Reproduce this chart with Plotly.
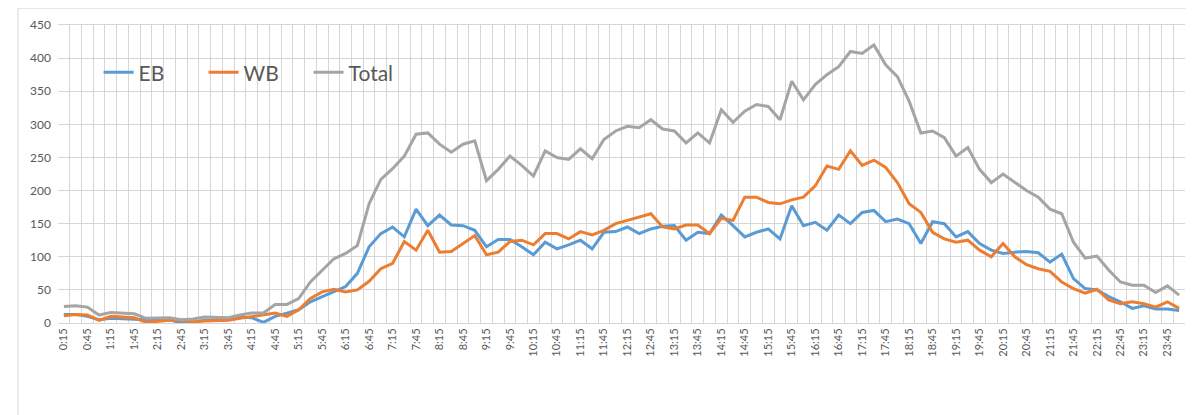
import plotly.graph_objects as go

times = []
for k in range(1, 97):
    m = k * 15
    times.append(f"{m // 60}:{m % 60:02d}")

eb = [13, 13, 10, 5, 7, 6, 6, 4, 4, 5, 0, 1, 4, 5, 5, 9,
      8, 1, 10, 15, 20, 32, 40, 47, 55, 75, 115, 135, 145, 130, 172, 147,
      163, 148, 147, 140, 115, 126, 126, 115, 103, 122, 112, 118, 125, 112, 137, 138,
      145, 135, 142, 146, 147, 125, 137, 135, 163, 147, 130, 137, 142, 127, 177, 147,
      152, 140, 163, 150, 167, 170, 153, 157, 150, 120, 153, 150, 130, 138, 120, 110,
      105, 107, 108, 106, 92, 104, 67, 52, 50, 40, 32, 22, 26, 21, 21, 19]

wb = [11, 13, 12, 4, 10, 9, 8, 1, 3, 4, 4, 2, 3, 4, 4, 7,
      10, 13, 15, 10, 20, 37, 47, 51, 47, 50, 63, 82, 90, 123, 110, 140,
      107, 108, 120, 132, 103, 107, 123, 125, 118, 135, 135, 127, 138, 133, 140, 150,
      155, 160, 165, 145, 142, 148, 148, 135, 158, 155, 190, 190, 182, 180, 186, 190,
      207, 237, 232, 260, 238, 246, 235, 212, 180, 167, 137, 127, 122, 125, 110, 100,
      120, 100, 88, 82, 78, 62, 52, 45, 51, 35, 29, 32, 29, 24, 32, 22]

total = [25, 26, 24, 12, 16, 15, 14, 7, 7, 8, 5, 6, 9, 8, 8, 12,
         15, 15, 28, 28, 37, 62, 80, 97, 105, 117, 180, 217, 233, 252, 285, 287,
         270, 258, 270, 275, 215, 232, 252, 238, 222, 260, 250, 247, 263, 248, 277, 290,
         297, 295, 307, 293, 290, 272, 287, 272, 322, 303, 320, 330, 327, 307, 365, 337,
         360, 375, 387, 410, 407, 420, 390, 372, 335, 287, 290, 280, 252, 265, 232, 212,
         225, 212, 200, 190, 172, 165, 122, 98, 101, 80, 62, 57, 57, 46, 56, 42]

series_names = ["EB", "WB", "Total"]
series_values = [eb, wb, total]
series_colors = ["#5b9bd5", "#ed7d31", "#a5a5a5"]

tick_text = [t if i % 2 == 0 else "" for i, t in enumerate(times)]

fig = go.Figure()
for name, vals, col in zip(series_names, series_values, series_colors):
    fig.add_trace(go.Scatter(x=times, y=vals, mode="lines", name=name,
                             line=dict(color=col, width=3)))

grid = "#d6d6d6"
fig.update_layout(
    width=1186, height=407,
    margin=dict(l=50, r=9, t=15, b=92),
    paper_bgcolor="white", plot_bgcolor="white",
    font=dict(family="Lato, Liberation Sans, sans-serif", color="#595959"),
    showlegend=True,
    legend=dict(orientation="h", x=0.036, y=0.84, xanchor="left", yanchor="middle",
                font=dict(size=21, color="#595959"), bgcolor="rgba(0,0,0,0)",
                entrywidth=60, entrywidthmode="pixels", itemwidth=30),
    xaxis=dict(type="category", categoryorder="array", categoryarray=times,
               tickvals=times, ticktext=tick_text, tickangle=-90,
               tickson="boundaries", showgrid=True, gridcolor=grid, gridwidth=1,
               ticks="", tickfont=dict(size=11, color="#595959"),
               showline=True, mirror=True, linecolor=grid, linewidth=1,
               range=[-0.5, 95.5], zeroline=False),
    yaxis=dict(range=[0, 450], dtick=50, showgrid=True, gridcolor=grid, gridwidth=1,
               zeroline=False, ticks="", tickfont=dict(size=12, color="#595959"),
               ticklabelstandoff=6, showline=False),
    shapes=[dict(type="rect", xref="paper", yref="paper",
                 x0=-0.0355, x1=1.0044, y0=-0.33, y1=1.0567,
                 line=dict(color="#d9d9d9", width=1), fillcolor="rgba(0,0,0,0)",
                 layer="below")],
)

fig.write_html("out.html")
